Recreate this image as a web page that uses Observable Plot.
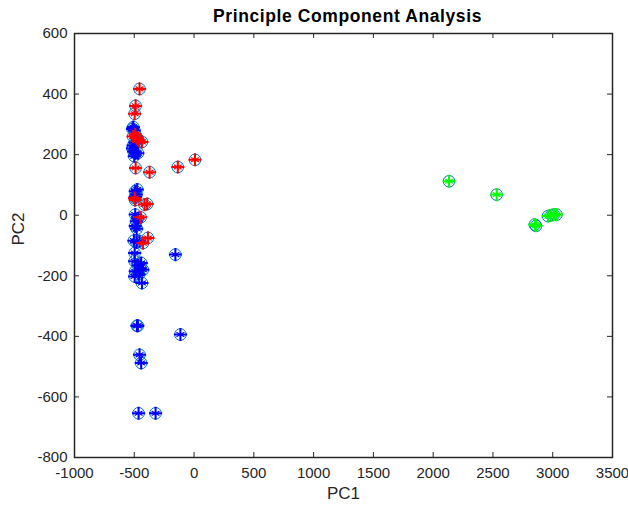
<!DOCTYPE html>
<html><head><meta charset="utf-8">
<script src="https://cdn.jsdelivr.net/npm/d3@7"></script>
<script src="https://cdn.jsdelivr.net/npm/@observablehq/plot@0.6"></script>
<style>body{margin:0;background:#fff;} svg{display:block;} .ttl text{letter-spacing:0.6px;}</style>
</head><body><div id="chart"></div>
<script>
const titleText = "Principle Component Analysis";
const xLabel = "PC1";
const yLabel = "PC2";
const xTicks = [-1000, -500, 0, 500, 1000, 1500, 2000, 2500, 3000, 3500];
const yTicks = [-800, -600, -400, -200, 0, 200, 400, 600];

const blueX = [-508,-515,-500,-510,-515,-505,-490,-470,-500,-495,-492,-483,-475,-490,-492,-483,-492,-470,-480,-503,-456,-480,-156,-497,-497,-442,-470,-428,-492,-497,-436,-460,-450,-478,-470,-114,-456,-442,-464,-322];
const blueY = [291,285,280,230,220,210,205,205,195,240,79,68,85,60,2,-20,-36,-10,-45,-84,-86,-90,-130,-125,-152,-158,-165,-180,-185,-202,-224,-195,-175,-365,-365,-394,-461,-488,-654,-654];
const redX = [-456,-489,-497,-492,-510,-480,-470,-436,-489,-372,-136,8,-497,-492,-414,-392,-447,-386,-428,-465];
const redY = [417,361,335,267,260,255,250,242,156,142,159,183,57,50,35,37,-7,-75,-92,245];
const greenX = [2133,2531,2850,2860,2961,2989,3010,3031];
const greenY = [112,68,-31,-35,-3,0,2,2];

const mk = (xs, ys, g) => xs.map((x, i) => ({x, y: ys[i], g}));
const blue = mk(blueX, blueY, "blue");
const red = mk(redX, redY, "red");
const green = mk(greenX, greenY, "green");
const all = [...blue, ...red, ...green];

const axisColor = "#262626";
const innerH = 508 - 33 - 51;
const innerW = 628 - 74 - 16;
const fmt = d => String(d);

const chart = Plot.plot({
  width: 628, height: 508,
  marginTop: 33, marginBottom: 51, marginLeft: 74, marginRight: 16,
  style: {fontFamily: "'Liberation Sans', Arial, sans-serif", fontSize: "15px", color: axisColor, background: "#fff", overflow: "visible"},
  x: {domain: [-1000, 3500]},
  y: {domain: [-800, 600]},
  marks: [
    Plot.axisX(xTicks, {anchor: "bottom", tickSize: 0, tickPadding: 10, label: null, fontSize: 15, tickFormat: fmt}),
    Plot.axisY(yTicks, {anchor: "left", tickSize: 0, tickPadding: 7, label: null, fontSize: 15, tickFormat: fmt}),
    Plot.tickX(xTicks, {x: d => d, stroke: axisColor, insetTop: innerH - 5}),
    Plot.tickX(xTicks, {x: d => d, stroke: axisColor, insetBottom: innerH - 5}),
    Plot.tickY(yTicks, {y: d => d, stroke: axisColor, insetRight: innerW - 5}),
    Plot.tickY(yTicks, {y: d => d, stroke: axisColor, insetLeft: innerW - 5}),
    Plot.frame({stroke: axisColor, strokeWidth: 1.5}),
    Plot.dot(all, {x: "x", y: "y", r: 5.8, stroke: "#0072BD", strokeWidth: 1, fill: "none"}),
    Plot.dot(blue, {x: "x", y: "y", symbol: "asterisk", r: 4.3, stroke: "#0000FF", strokeWidth: 1.2}),
    Plot.dot(blue, {x: "x", y: "y", symbol: "plus", r: 4.3, stroke: "#0000FF", strokeWidth: 2}),
    Plot.dot(red, {x: "x", y: "y", symbol: "asterisk", r: 4.3, stroke: "#FF0000", strokeWidth: 1.2}),
    Plot.dot(red, {x: "x", y: "y", symbol: "plus", r: 4.3, stroke: "#FF0000", strokeWidth: 2}),
    Plot.dot(green, {x: "x", y: "y", symbol: "asterisk", r: 4.3, stroke: "#00FF00", strokeWidth: 1.2}),
    Plot.dot(green, {x: "x", y: "y", symbol: "plus", r: 4.3, stroke: "#00FF00", strokeWidth: 2}),
    Plot.text([titleText], {frameAnchor: "top", dy: -24, dx: 4, fontWeight: "bold", fontSize: 17.5, fill: "#000", className: "ttl"}),
    Plot.text([xLabel], {frameAnchor: "bottom", dy: 41, fontSize: 17, fill: axisColor}),
    Plot.text([yLabel], {frameAnchor: "left", dx: -56, rotate: -90, fontSize: 17, fill: axisColor})
  ]
});
document.getElementById("chart").appendChild(chart);
</script>
</body></html>
